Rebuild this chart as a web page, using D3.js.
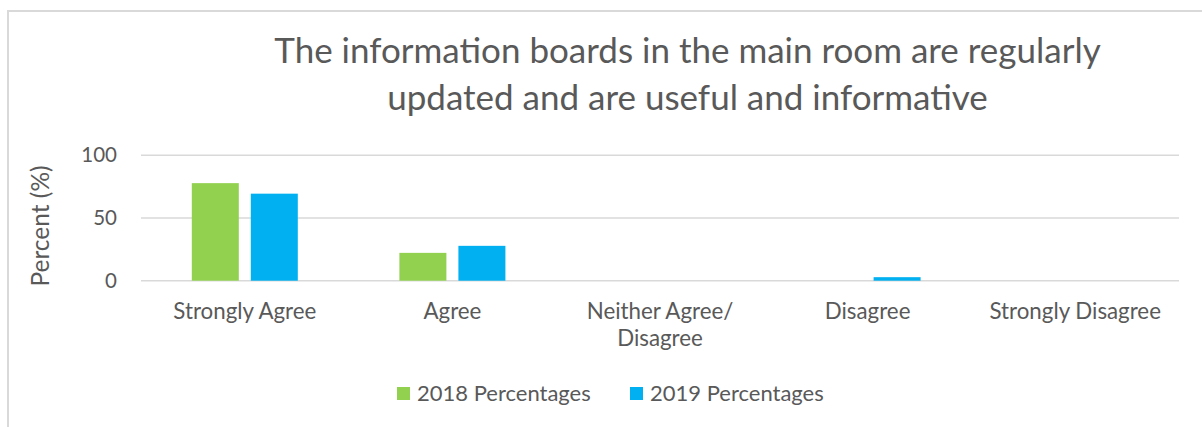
<!DOCTYPE html>
<html><head><meta charset="utf-8">
<script src="https://cdn.jsdelivr.net/npm/d3@7"></script>
<style>
html,body{margin:0;padding:0;background:#fff;}
text{font-family:Lato,"Open Sans",sans-serif;fill:#595959;}
</style></head>
<body>
<svg id="chart" width="1202" height="427"></svg>
<script>
const categories = ["Strongly Agree","Agree","Neither Agree/\nDisagree","Disagree","Strongly Disagree"];
const seriesNames = ["2018 Percentages","2019 Percentages"];
const values2018 = [77.8, 22.2, 0, 0, 0];
const values2019 = [69.4, 27.8, 0, 2.8, 0];
const yTicks = [0, 50, 100];
const titleLines = ["The information boards in the main room are regularly","updated and are useful and informative"];
const colors = ["#92d050","#00b0f0"];

(function(){
const svg = d3.select("#chart");
svg.append("rect").attr("x",8).attr("y",11).attr("width",1210).attr("height",430)
  .attr("fill","none").attr("stroke","#d9d9d9").attr("stroke-width",2);

const pLeft = 141, pRight = 1179, pTop = 155.3, pBottom = 280.7;
const x = d3.scaleBand().domain(categories).range([pLeft,pRight]).paddingInner(0).paddingOuter(0);
const y = d3.scaleLinear().domain([0,100]).range([pBottom,pTop]);
const x1 = d3.scaleBand().domain(seriesNames).range([-53,53]).paddingInner(12/59).paddingOuter(0);

svg.append("g").selectAll("line").data(yTicks).join("line")
  .attr("x1",pLeft).attr("x2",pRight)
  .attr("y1",d=>y(d)).attr("y2",d=>y(d))
  .attr("stroke","#d9d9d9").attr("stroke-width",1.5);

svg.append("g").selectAll("text").data(yTicks).join("text")
  .attr("x",117).attr("y",d=>y(d)).attr("dy","0.35em")
  .attr("text-anchor","end").attr("font-size",20.5).text(d=>d);

const data = categories.map((c,i)=>({c, vals:[values2018[i],values2019[i]]}));
const groups = svg.append("g").selectAll("g").data(data).join("g")
  .attr("transform",d=>`translate(${x(d.c)+x.bandwidth()/2},0)`);
groups.selectAll("rect").data(d=>d.vals.map((v,j)=>({v,s:seriesNames[j],j})).filter(e=>e.v>0)).join("rect")
  .attr("x",e=>x1(e.s)).attr("width",x1.bandwidth())
  .attr("y",e=>y(e.v)).attr("height",e=>y(0)-y(e.v))
  .attr("fill",e=>colors[e.j]);

const xl = svg.append("g").selectAll("text").data(categories).join("text")
  .attr("x",d=>x(d)+x.bandwidth()/2).attr("y",319)
  .attr("text-anchor","middle").attr("font-size",22.3);
xl.each(function(d){
  const lines = d.split("\n");
  d3.select(this).selectAll("tspan").data(lines).join("tspan")
    .attr("x",x(d)+x.bandwidth()/2).attr("dy",(l,i)=>i===0?0:27).text(l=>l);
});

svg.append("text").attr("transform","translate(49,226) rotate(-90)")
  .attr("text-anchor","middle").attr("font-size",24.5).text("Percent (%)");

svg.append("g").selectAll("text").data(titleLines).join("text")
  .attr("x",687.5).attr("y",(d,i)=>63+i*47).attr("text-anchor","middle")
  .attr("font-size",35).text(d=>d);

const legX = [397, 630];
const leg = svg.append("g").selectAll("g").data(seriesNames).join("g")
  .attr("transform",(d,i)=>`translate(${legX[i]},387)`);
leg.append("rect").attr("width",13).attr("height",13).attr("fill",(d,i)=>colors[i]);
leg.append("text").attr("x",20).attr("y",6.5).attr("dy","0.35em").attr("font-size",22).text(d=>d);
})();
</script>
</body></html>
